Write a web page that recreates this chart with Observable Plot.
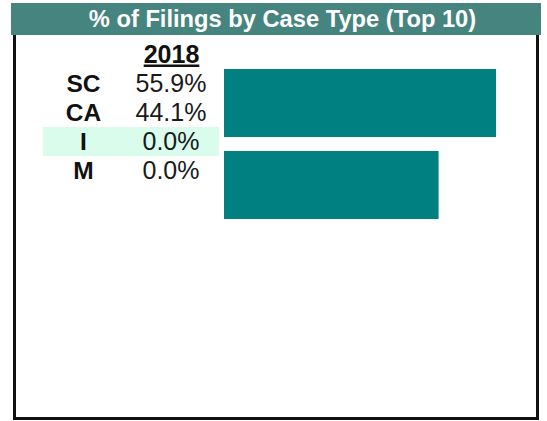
<!DOCTYPE html>
<html>
<head>
<meta charset="utf-8">
<script src="https://cdn.jsdelivr.net/npm/d3@7"></script>
<script src="https://cdn.jsdelivr.net/npm/@observablehq/plot@0.6"></script>
<style>
  html, body { margin: 0; padding: 0; background: #fff; }
  #wrap { position: relative; width: 547px; height: 421px; font-family: "Liberation Sans", Arial, sans-serif; overflow: hidden; }
  #box { position: absolute; left: 13px; top: 30px; width: 526px; height: 390px; border: 3px solid #111; border-top: none; box-sizing: border-box; }
  #title { position: absolute; left: 11px; top: 3px; width: 530px; height: 32px; background: #468480; color: #fff; font-weight: bold; font-size: 23.7px; line-height: 32px; text-align: center; text-indent: 13px; white-space: nowrap; }
  #wrap svg { position: absolute; left: 0; top: 0; }
</style>
</head>
<body>
<div id="wrap">
  <div id="box"></div>
  <div id="title">% of Filings by Case Type (Top 10)</div>
</div>
<script>
const titleText = "% of Filings by Case Type (Top 10)";
const yearLabel = "2018";
const caseTypes = ["SC", "CA", "I", "M"];
const pctValues = [55.9, 44.1, 0.0, 0.0];
const highlightedRows = ["I"];
const tableColumns = ["case", "pct"];

const rows = caseTypes.map((c, i) => ({case: c, pct: pctValues[i]}));
const fmt = d => d3.format(".1f")(d) + "%";
const font = "'Liberation Sans', Arial, sans-serif";

const table = Plot.plot({
  width: 547, height: 421,
  marginTop: 0, marginRight: 0, marginBottom: 0, marginLeft: 0,
  style: {background: "transparent", fontFamily: font},
  x: {type: "band", domain: tableColumns, range: [43, 219], padding: 0, axis: null},
  y: {type: "band", domain: [yearLabel, ...caseTypes], range: [37.9, 186.4], padding: 0, axis: null},
  marks: [
    Plot.cell(tableColumns.flatMap(col => highlightedRows.map(r => ({col, row: r}))),
      {x: "col", y: "row", fill: "#d9fcec", inset: 0, shapeRendering: "crispEdges"}),
    Plot.text([yearLabel], {x: () => "pct", y: d => d, text: d => d, fontSize: 25, fontWeight: "bold", fill: "#111", dx: -4, dy: -0.5}),
    Plot.text(rows, {x: () => "case", y: "case", text: "case", fontSize: 24.5, fontWeight: "bold", fill: "#111", dx: -4}),
    Plot.text(rows, {x: () => "pct", y: "case", text: d => fmt(d.pct), fontSize: 25, fill: "#1a1a1a", dx: -4.5})
  ]
});
d3.select(table).selectAll("text")
  .filter(function() { return this.textContent === yearLabel; })
  .attr("text-decoration", "underline")
  .style("text-decoration", "underline");

const bars = Plot.plot({
  width: 547, height: 421,
  marginTop: 0, marginRight: 0, marginBottom: 0, marginLeft: 0,
  style: {background: "transparent", fontFamily: font},
  x: {range: [224, 496], axis: null},
  y: {type: "band", domain: caseTypes, range: [61.9, 389.9], paddingInner: 0.174, paddingOuter: 0.087, axis: null},
  marks: [
    Plot.barX(rows, {x: "pct", y: "case", fill: "#008080", inset: 0})
  ]
});

const wrap = document.getElementById("wrap");
wrap.appendChild(table);
wrap.appendChild(bars);
</script>
</body>
</html>
